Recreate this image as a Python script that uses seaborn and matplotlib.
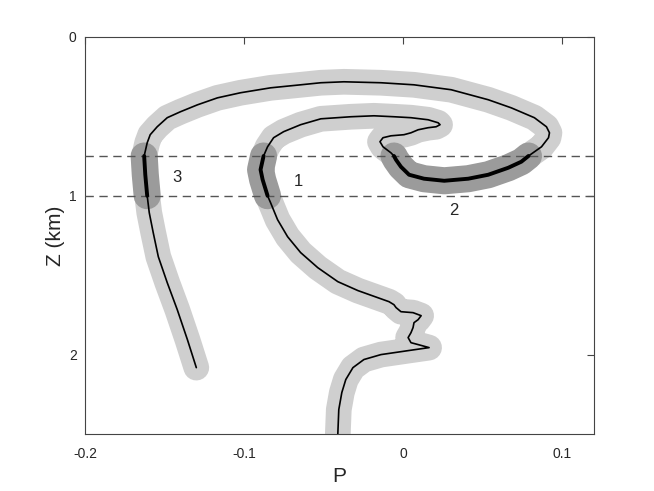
import numpy as np
import pandas as pd
import matplotlib
matplotlib.use("Agg")
import matplotlib.pyplot as plt
import seaborn as sns

# Curve traced along its path (P, depth Z in km)
P = [-0.1300, -0.1356, -0.1420, -0.1483, -0.1539, -0.1571, -0.1596, -0.1609, -0.1621, -0.1628,
     -0.1609, -0.1590, -0.1546, -0.1483, -0.1401, -0.1293, -0.1167, -0.1022, -0.0833, -0.0644,
     -0.0517, -0.0372, -0.0139, 0.0069, 0.0303, 0.0536, 0.0681, 0.0826, 0.0902, 0.0921,
     0.0915, 0.0871, 0.0789, 0.0744, 0.0662, 0.0536, 0.0410, 0.0259, 0.0132, 0.0038,
     -0.0013, -0.0044, -0.0057, -0.0076, -0.0126, -0.0145, -0.0126, -0.0076, 0.0006, 0.0050,
     0.0095, 0.0158, 0.0208, 0.0233, 0.0221, 0.0158, 0.0050, -0.0057, -0.0183, -0.0328,
     -0.0517, -0.0644, -0.0751, -0.0814, -0.0852, -0.0877, -0.0896, -0.0883, -0.0852, -0.0833,
     -0.0789, -0.0726, -0.0644, -0.0536, -0.0410, -0.0284, -0.0158, -0.0088, -0.0057, -0.0044,
     -0.0013, 0.0063, 0.0114, 0.0095, 0.0069, 0.0063, 0.0050, 0.0032, 0.0050, 0.0095,
     0.0164, 0.0032, -0.0139, -0.0246, -0.0315, -0.0360, -0.0385, -0.0404, -0.0410, -0.0410]
Z = [2.082, 1.906, 1.717, 1.547, 1.384, 1.233, 1.107, 1.000, 0.868, 0.750,
     0.667, 0.616, 0.566, 0.509, 0.472, 0.428, 0.384, 0.352, 0.321, 0.302,
     0.289, 0.283, 0.289, 0.302, 0.333, 0.396, 0.447, 0.509, 0.566, 0.604,
     0.635, 0.692, 0.750, 0.786, 0.824, 0.868, 0.893, 0.906, 0.893, 0.868,
     0.818, 0.774, 0.750, 0.730, 0.692, 0.660, 0.635, 0.623, 0.616, 0.604,
     0.585, 0.572, 0.566, 0.553, 0.541, 0.522, 0.509, 0.503, 0.497, 0.503,
     0.516, 0.553, 0.597, 0.635, 0.692, 0.750, 0.836, 0.899, 1.000, 1.044,
     1.151, 1.258, 1.358, 1.453, 1.541, 1.597, 1.642, 1.667, 1.686, 1.704,
     1.730, 1.736, 1.755, 1.780, 1.799, 1.830, 1.862, 1.893, 1.925, 1.937,
     1.956, 1.975, 2.000, 2.031, 2.082, 2.157, 2.239, 2.346, 2.497, 2.566]

layer_top, layer_bot = 0.75, 1.0
labels = ["1", "2", "3"]
label_P = [-0.0656, 0.032, -0.142]
label_Z = [0.912, 1.094, 0.887]

df = pd.DataFrame({"P": P, "Z": Z})
inside = (df["Z"] >= layer_top - 1e-9) & (df["Z"] <= layer_bot + 1e-9)
df["seg"] = (inside != inside.shift()).cumsum()
hl = df[inside]

sns.set_style("white")
plt.rcParams["font.family"] = ["Liberation Sans", "DejaVu Sans"]

fig = plt.figure(figsize=(6.54, 4.91), dpi=100)
ax = fig.add_axes([0.13, 0.116, 0.778, 0.809])

sns.lineplot(data=df, x="P", y="Z", sort=False, estimator=None, color="#cfcfcf",
             linewidth=18.5, ax=ax, solid_capstyle="round", solid_joinstyle="round", zorder=1)
sns.lineplot(data=hl, x="P", y="Z", units="seg", sort=False, estimator=None, color="#9b9b9b",
             linewidth=19.5, ax=ax, solid_capstyle="round", solid_joinstyle="round", zorder=2)
for zz in (layer_top, layer_bot):
    ax.axhline(zz, color="#555555", linestyle=(0, (6, 4)), linewidth=1.0, zorder=3)
sns.lineplot(data=df, x="P", y="Z", sort=False, estimator=None, color="black",
             linewidth=1.2, ax=ax, zorder=4, solid_joinstyle="round")
sns.lineplot(data=hl, x="P", y="Z", units="seg", sort=False, estimator=None, color="black",
             linewidth=2.8, ax=ax, zorder=5, solid_joinstyle="round")

for t, px, pz in zip(labels, label_P, label_Z):
    ax.text(px, pz, t, fontsize=12, ha="center", va="center", zorder=6)

ax.set_xlim(-0.2, 0.12)
ax.set_ylim(2.5, 0)
ax.set_xticks([-0.2, -0.1, 0, 0.1])
ax.set_xticklabels(["-0.2", "-0.1", "0", "0.1"])
ax.set_yticks([0, 1, 2])
ax.set_yticklabels(["0", "1", "2"])
ax.tick_params(direction="in", length=5, width=0.8, color="#444444", labelsize=10,
               top=True, right=True, labelcolor="#262626")
ax.tick_params(axis="x", pad=9)
ax.tick_params(axis="y", pad=6)
for s in ax.spines.values():
    s.set_color("#444444")
    s.set_linewidth(0.8)
ax.set_xlabel("P", fontsize=15, labelpad=5)
ax.set_ylabel("Z (km)", fontsize=15, labelpad=3)

fig.savefig("out.png", dpi=100)
